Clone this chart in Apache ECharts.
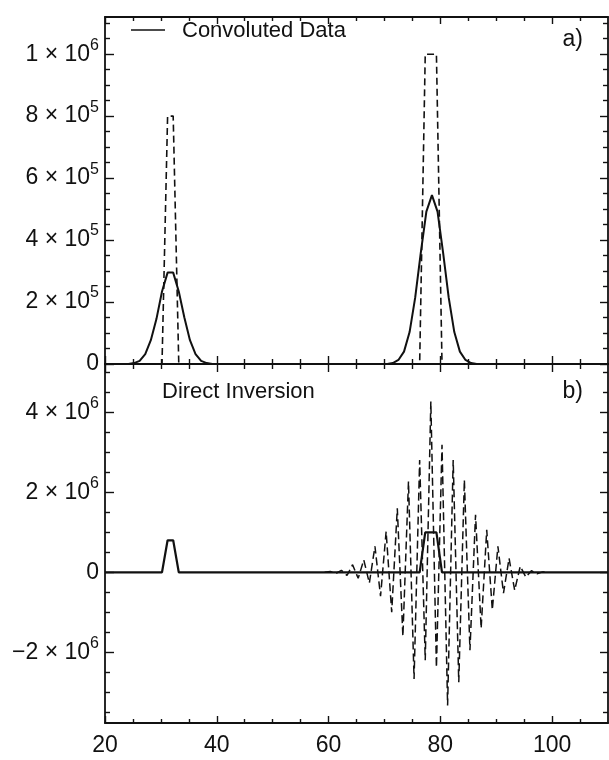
<!DOCTYPE html>
<html><head><meta charset="utf-8">
<script src="https://cdn.jsdelivr.net/npm/echarts@6.0.0/dist/echarts.min.js"></script>
<style>html,body{margin:0;padding:0;background:#fff}#c{width:609px;height:760px}</style>
</head><body><div id="c"></div><script>
// ---------- data ----------
const xRange = [20, 110];
const xMajorTicks = [20, 40, 60, 80, 100];
const xMinorTicks = [25, 30, 35, 45, 50, 55, 65, 70, 75, 85, 90, 95, 105];
const xTickLabels = ['20', '40', '60', '80', '100'];

const topYRange = [0, 1.12e6];
const topYMajorTicks = [0, 2e5, 4e5, 6e5, 8e5, 1e6];
const topYMinorTicks = [5e4, 1e5, 1.5e5, 2.5e5, 3e5, 3.5e5, 4.5e5, 5e5, 5.5e5, 6.5e5, 7e5, 7.5e5, 8.5e5, 9e5, 9.5e5, 1.05e6, 1.1e6];
const topYTickLabels = ['0', '2 × 10{s|5}', '4 × 10{s|5}', '6 × 10{s|5}', '8 × 10{s|5}', '1 × 10{s|6}'];

const botYRange = [-3.77e6, 5.21e6];
const botYMajorTicks = [-2e6, 0, 2e6, 4e6];
const botYMinorTicks = [-3.5e6, -3e6, -2.5e6, -1.5e6, -1e6, -5e5, 5e5, 1e6, 1.5e6, 2.5e6, 3e6, 3.5e6, 4.5e6, 5e6];
const botYTickLabels = ['\u22122 × 10{s|6}', '0', '2 × 10{s|6}', '4 × 10{s|6}'];

// true (dashed in a, solid in b)
const trueX = [20, 30.2, 31.2, 32.2, 33.2, 76.3, 77.3, 79.3, 80.3, 110];
const trueY = [0, 0, 8e5, 8e5, 0, 0, 1e6, 1e6, 0, 0];

// convoluted data (solid in a)
const convX = [20, 24.2, 25.2, 26.2, 27.2, 28.2, 29.2, 30.2, 31.2, 32.2, 33.2, 34.2, 35.2, 36.2, 37.2, 38.2, 39.2,
               70.5, 71.5, 72.5, 73.5, 74.5, 75.5, 76.5, 77.5, 78.5, 79.5, 80.5, 81.5, 82.5, 83.5, 84.5, 85.5, 86.5, 110];
const convY = [0, 0, 3e3, 1e4, 3.2e4, 7.7e4, 1.45e5, 2.34e5, 2.95e5, 2.95e5, 2.34e5, 1.5e5, 7.7e4, 3.2e4, 1e4, 3e3, 0,
               0, 3e3, 1.3e4, 4e4, 1.03e5, 2.14e5, 3.59e5, 4.92e5, 5.45e5, 4.92e5, 3.59e5, 2.14e5, 1.03e5, 4e4, 1.3e4, 3e3, 0, 0];

// direct inversion (dashed in b)
const invX = [59.3, 60.3, 61.3, 62.3, 63.3, 64.3, 65.3, 66.3, 67.3, 68.3, 69.3, 70.3, 71.3, 72.3, 73.3, 74.3, 75.3, 76.3, 77.3, 78.3,
              79.3, 80.3, 81.3, 82.3, 83.3, 84.3, 85.3, 86.3, 87.3, 88.3, 89.3, 90.3, 91.3, 92.3, 93.3, 94.3, 95.3, 96.3, 97.3, 98.3, 99.3];
const invY = [0, 2e4, -3e4, 5e4, -8e4, 1.9e5, -1.5e5, 3.1e5, -2.7e5, 6.5e5, -6e5, 1.02e6, -1.0e6, 1.6e6, -1.6e6, 2.27e6, -2.67e6, 2.81e6, -2.2e6, 4.27e6,
              -2.38e6, 3.19e6, -3.33e6, 2.81e6, -2.75e6, 2.31e6, -1.95e6, 1.44e6, -1.4e6, 1.06e6, -9.4e5, 6.5e5, -5.2e5, 3.5e5, -4.5e5, 1.5e5, -1.2e5, 4e4, -4e4, 1e4, 0];

// ---------- chart ----------
const INK = '#111';
const FONT = "'Liberation Sans', Arial, sans-serif";
const pairs = (xs, ys) => xs.map((x, i) => [x, ys[i]]);

function xAx(gridIndex, position, ticks, len, showLine, withLabels) {
  return {
    type: 'value', gridIndex, position, min: xRange[0], max: xRange[1],
    axisLine: { show: showLine, onZero: false, lineStyle: { color: INK, width: 1.8 } },
    axisTick: { show: true, inside: true, length: len, customValues: ticks, lineStyle: { color: INK, width: 1.4 } },
    axisLabel: withLabels ? {
      show: true, customValues: xMajorTicks, margin: 11, fontSize: 23, color: INK, fontFamily: FONT,
      formatter: v => { const i = xMajorTicks.indexOf(v); return i >= 0 ? xTickLabels[i] : ''; }
    } : { show: false },
    splitLine: { show: false }
  };
}
function yAx(gridIndex, position, range, ticks, len, showLine, majors, labels) {
  return {
    type: 'value', gridIndex, position, min: range[0], max: range[1],
    axisLine: { show: showLine, onZero: false, lineStyle: { color: INK, width: 1.8 } },
    axisTick: { show: true, inside: true, length: len, customValues: ticks, lineStyle: { color: INK, width: 1.4 } },
    axisLabel: labels ? {
      show: true, customValues: majors, margin: 6, color: INK, fontFamily: FONT,
      fontSize: 23, lineHeight: 34,
      formatter: v => { const i = majors.findIndex(t => Math.abs(t - v) < 1); return i >= 0 ? labels[i] : ''; },
      rich: { s: { fontSize: 16, lineHeight: 14, verticalAlign: 'top', fontFamily: FONT, color: INK } }
    } : { show: false },
    splitLine: { show: false }
  };
}

const grids = [
  { left: 105, right: 1, top: 17, height: 347 },
  { left: 105, right: 1, top: 364, height: 359 }
];

const xAxes = [
  xAx(0, 'bottom', xMajorTicks, 8, true, false),
  xAx(0, 'bottom', xMinorTicks, 5, false, false),
  xAx(0, 'top', xMajorTicks, 7, true, false),
  xAx(0, 'top', xMinorTicks, 4, false, false),
  xAx(1, 'bottom', xMajorTicks, 7, true, true),
  xAx(1, 'bottom', xMinorTicks, 4, false, false),
  xAx(1, 'top', xMajorTicks, 8, true, false),
  xAx(1, 'top', xMinorTicks, 5, false, false)
];
const yAxes = [
  yAx(0, 'left', topYRange, topYMajorTicks, 9, true, topYMajorTicks, topYTickLabels),
  yAx(0, 'left', topYRange, topYMinorTicks, 5, false),
  yAx(0, 'right', topYRange, topYMajorTicks, 8, true),
  yAx(0, 'right', topYRange, topYMinorTicks, 5, false),
  yAx(1, 'left', botYRange, botYMajorTicks, 9, true, botYMajorTicks, botYTickLabels),
  yAx(1, 'left', botYRange, botYMinorTicks, 5, false),
  yAx(1, 'right', botYRange, botYMajorTicks, 8, true),
  yAx(1, 'right', botYRange, botYMinorTicks, 5, false)
];

const base = { type: 'line', symbol: 'none', clip: true, animation: false, silent: true };
const series = [
  Object.assign({}, base, { name: 'True', xAxisIndex: 0, yAxisIndex: 0, data: pairs(trueX, trueY),
    lineStyle: { color: INK, width: 1.6, type: [7, 4] } }),
  Object.assign({}, base, { name: 'Convoluted Data', xAxisIndex: 0, yAxisIndex: 0, data: pairs(convX, convY),
    lineStyle: { color: INK, width: 2 } }),
  Object.assign({}, base, { name: 'Direct Inversion', xAxisIndex: 4, yAxisIndex: 4, data: pairs(invX, invY),
    lineStyle: { color: INK, width: 1.5, type: [8, 4] } }),
  Object.assign({}, base, { name: 'Solution', xAxisIndex: 4, yAxisIndex: 4, data: pairs(trueX, trueY),
    lineStyle: { color: INK, width: 2.2 } })
];

const chart = echarts.init(document.getElementById('c'), null, { renderer: 'canvas' });
chart.setOption({
  backgroundColor: '#fff',
  animation: false,
  grid: grids,
  xAxis: xAxes,
  yAxis: yAxes,
  series: series,
  graphic: [
    { type: 'line', shape: { x1: 131, y1: 30, x2: 165, y2: 30 }, style: { stroke: INK, lineWidth: 1.6 } },
    { type: 'text', x: 182, y: 31, style: { text: 'Convoluted Data', fill: INK, font: "22px 'Liberation Sans', Arial, sans-serif", verticalAlign: 'middle' } },
    { type: 'text', x: 583, y: 40, style: { text: 'a)', fill: INK, font: "23px 'Liberation Sans', Arial, sans-serif", verticalAlign: 'middle', align: 'right' } },
    { type: 'text', x: 162, y: 392, style: { text: 'Direct Inversion', fill: INK, font: "22px 'Liberation Sans', Arial, sans-serif", verticalAlign: 'middle' } },
    { type: 'text', x: 583, y: 392, style: { text: 'b)', fill: INK, font: "23px 'Liberation Sans', Arial, sans-serif", verticalAlign: 'middle', align: 'right' } }
  ]
});
</script></body></html>
